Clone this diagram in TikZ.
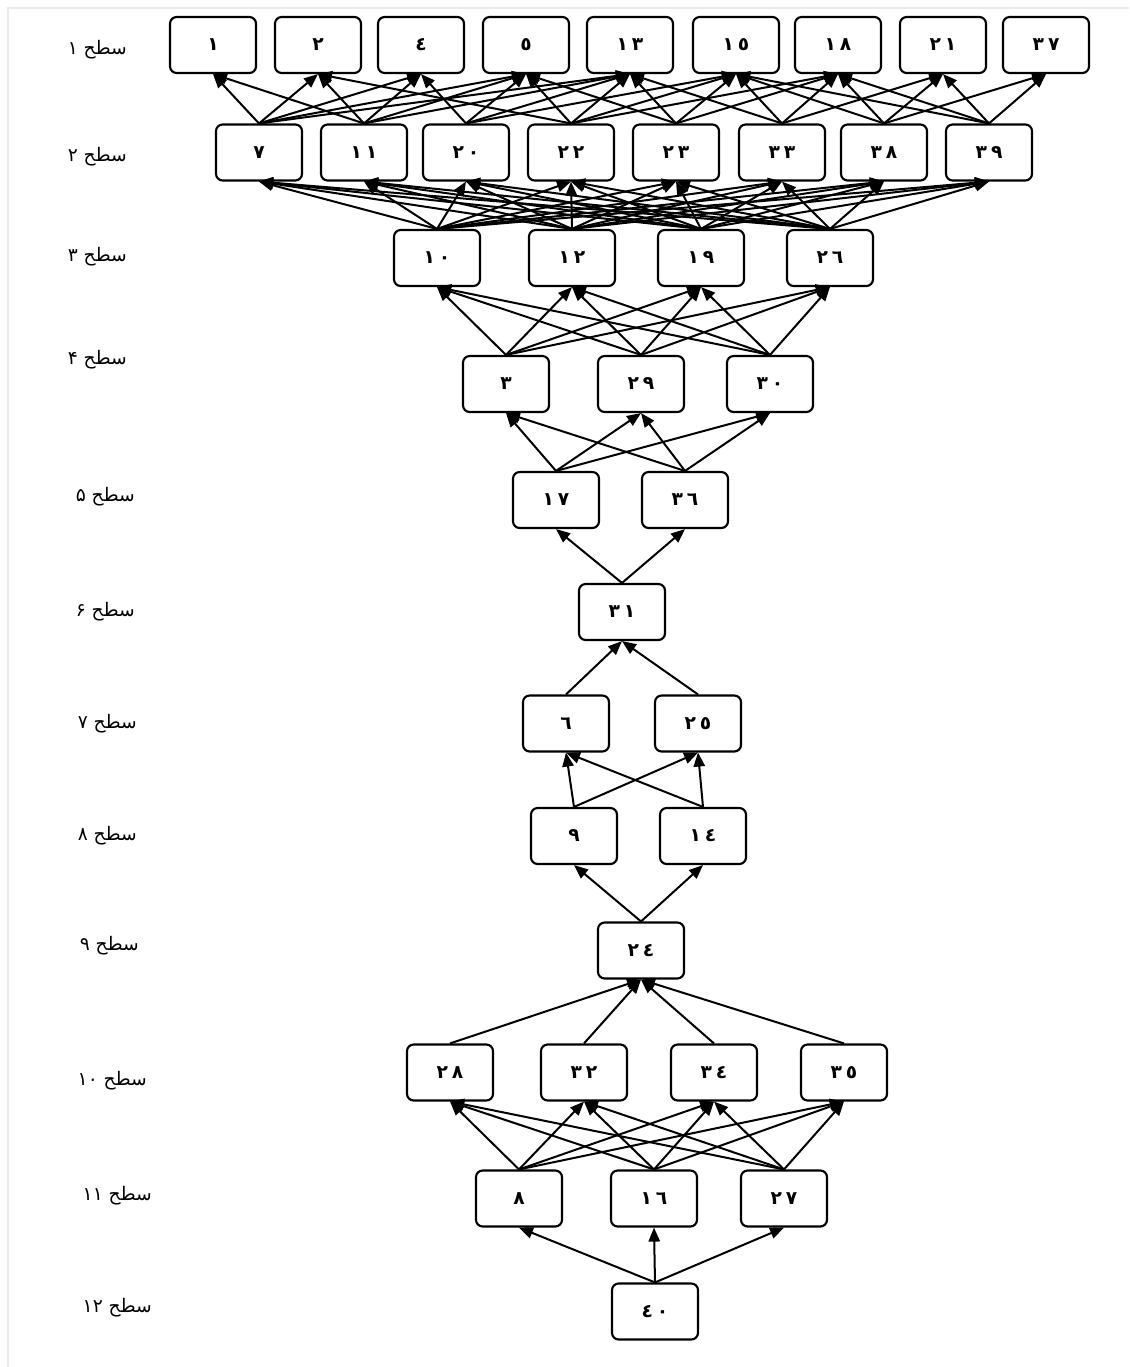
\documentclass[tikz,border=0pt]{standalone}
\usepackage{fontspec}
\usetikzlibrary{arrows.meta}
\newfontfamily\arabicfont[Script=Arabic]{DejaVu Sans}
\TeXXeTstate=1
\begin{document}
\begin{tikzpicture}[x=0.75pt,y=-0.75pt,
  box/.style={draw, line width=1.6pt, rounded corners=5pt,
    minimum width=64.5pt, minimum height=42pt, inner sep=0pt,
    font=\arabicfont\bfseries\fontsize{14}{16}\selectfont},
  lvl/.style={anchor=east, inner sep=0pt,
    font=\arabicfont\fontsize{14}{16}\selectfont},
  edge/.style={-{Triangle[length=10.5pt,width=8.5pt]}, line width=1.5pt}]
\useasboundingbox (0,0) rectangle (1129,1367);
% faint page edge
\draw[black!8, line width=1.5pt] (8,1367) -- (8,8) -- (1129,8);

% level captions
\node[lvl] (c1)  at (127,50)   {\beginR سطح ۱\endR};
\node[lvl] (c2)  at (127,157)  {\beginR سطح ۲\endR};
\node[lvl] (c3)  at (127,257)  {\beginR سطح ۳\endR};
\node[lvl] (c4)  at (127,360)  {\beginR سطح ۴\endR};
\node[lvl] (c5)  at (135,497)  {\beginR سطح ۵\endR};
\node[lvl] (c6)  at (135,612)  {\beginR سطح ۶\endR};
\node[lvl] (c7)  at (137,724)  {\beginR سطح ۷\endR};
\node[lvl] (c8)  at (137,836)  {\beginR سطح ۸\endR};
\node[lvl] (c9)  at (139,946)  {\beginR سطح ۹\endR};
\node[lvl] (c10) at (147,1081) {\beginR سطح \beginL۱۰\endL\endR};
\node[lvl] (c11) at (152,1196) {\beginR سطح \beginL۱۱\endL\endR};
\node[lvl] (c12) at (152,1308) {\beginR سطح \beginL۱۲\endL\endR};

% level 1
\node[box] (n1)  at (213,45)  {١};
\node[box] (n2)  at (318,45)  {٢};
\node[box] (n4)  at (421,45)  {٤};
\node[box] (n5)  at (526,45)  {٥};
\node[box] (n13) at (630,45)  {١\kern3pt٣};
\node[box] (n15) at (736,45)  {١\kern3pt٥};
\node[box] (n18) at (838,45)  {١\kern3pt٨};
\node[box] (n21) at (943,45)  {٢\kern3pt١};
\node[box] (n37) at (1046,45) {٣\kern3pt٧};
% level 2
\node[box] (n7)  at (259,152.5) {٧};
\node[box] (n11) at (364,152.5) {١\kern3pt١};
\node[box] (n20) at (466,152.5) {٢\kern3pt٠};
\node[box] (n22) at (571,152.5) {٢\kern3pt٢};
\node[box] (n23) at (676,152.5) {٢\kern3pt٣};
\node[box] (n33) at (782,152.5) {٣\kern3pt٣};
\node[box] (n38) at (884,152.5) {٣\kern3pt٨};
\node[box] (n39) at (989,152.5) {٣\kern3pt٩};
% level 3
\node[box] (n10) at (437,258) {١\kern3pt٠};
\node[box] (n12) at (572,258) {١\kern3pt٢};
\node[box] (n19) at (701,258) {١\kern3pt٩};
\node[box] (n26) at (830,258) {٢\kern3pt٦};
% level 4
\node[box] (n3)  at (506,384) {٣};
\node[box] (n29) at (641,384) {٢\kern3pt٩};
\node[box] (n30) at (770,384) {٣\kern3pt٠};
% level 5
\node[box] (n17) at (556,500) {١\kern3pt٧};
\node[box] (n36) at (685,500) {٣\kern3pt٦};
% level 6
\node[box] (n31) at (622,612) {٣\kern3pt١};
% level 7
\node[box] (n6)  at (566,723.5) {٦};
\node[box] (n25) at (698,723.5) {٢\kern3pt٥};
% level 8
\node[box] (n9)  at (574,836) {٩};
\node[box] (n14) at (703,836) {١\kern3pt٤};
% level 9
\node[box] (n24) at (641,950.5) {٢\kern3pt٤};
% level 10
\node[box] (n28) at (450,1072.5) {٢\kern3pt٨};
\node[box] (n32) at (584,1072.5) {٣\kern3pt٢};
\node[box] (n34) at (714,1072.5) {٣\kern3pt٤};
\node[box] (n35) at (844,1072.5) {٣\kern3pt٥};
% level 11
\node[box] (n8)  at (519,1198.5) {٨};
\node[box] (n16) at (654,1198.5) {١\kern3pt٦};
\node[box] (n27) at (784,1198.5) {٢\kern3pt٧};
% level 12
\node[box] (n40) at (655,1311.5) {٤\kern3pt٠};

% level 2 -> level 1
\foreach \s/\t in {7/1,7/2,7/4,7/5,7/13,
                   11/1,11/2,11/4,11/5,11/13,
                   20/4,20/5,20/13,20/15,
                   22/2,22/5,22/13,22/15,22/18,
                   23/5,23/13,23/15,23/18,
                   33/13,33/15,33/18,33/21,
                   38/15,38/18,38/21,38/37,
                   39/15,39/18,39/21,39/37}
  \draw[edge] (n\s.north) -- (n\t.south);
% level 3 -> level 2
\foreach \s in {10,12,19,26}
  \foreach \t in {7,11,20,22,23,33,38,39}
    \draw[edge] (n\s.north) -- (n\t.south);
% level 4 -> level 3
\foreach \s in {3,29,30}
  \foreach \t in {10,12,19,26}
    \draw[edge] (n\s.north) -- (n\t.south);
% level 5 -> level 4
\foreach \s in {17,36}
  \foreach \t in {3,29,30}
    \draw[edge] (n\s.north) -- (n\t.south);
% level 6 -> level 5
\foreach \t in {17,36} \draw[edge] (n31.north) -- (n\t.south);
% level 7 -> level 6
\foreach \s in {6,25} \draw[edge] (n\s.north) -- (n31.south);
% level 8 -> level 7
\foreach \s in {9,14}
  \foreach \t in {6,25}
    \draw[edge] (n\s.north) -- (n\t.south);
% level 9 -> level 8
\foreach \t in {9,14} \draw[edge] (n24.north) -- (n\t.south);
% level 10 -> level 9
\foreach \s in {28,32,34,35} \draw[edge] (n\s.north) -- (n24.south);
% level 11 -> level 10
\foreach \s in {8,16,27}
  \foreach \t in {28,32,34,35}
    \draw[edge] (n\s.north) -- (n\t.south);
% level 12 -> level 11
\foreach \t in {8,16,27} \draw[edge] (n40.north) -- (n\t.south);
\end{tikzpicture}
\end{document}
